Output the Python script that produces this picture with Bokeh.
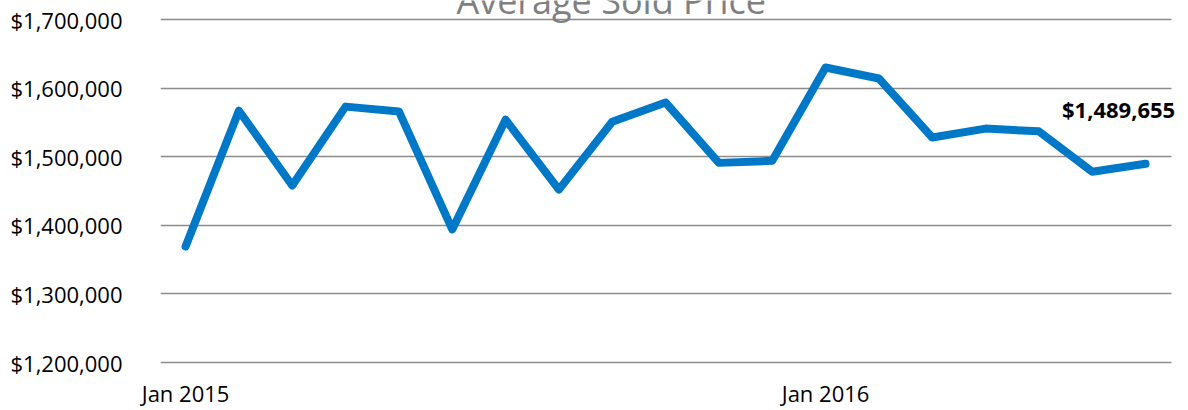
from bokeh.plotting import figure
from bokeh.models import Range1d, FixedTicker, NumeralTickFormatter, Label
from bokeh.embed import file_html
from bokeh.resources import INLINE

months = ["Jan 2015", "Feb 2015", "Mar 2015", "Apr 2015", "May 2015", "Jun 2015",
          "Jul 2015", "Aug 2015", "Sep 2015", "Oct 2015", "Nov 2015", "Dec 2015",
          "Jan 2016", "Feb 2016", "Mar 2016", "Apr 2016", "May 2016", "Jun 2016", "Jul 2016"]
avg_price = [1369000, 1567000, 1458000, 1573000, 1566000, 1394000, 1554000, 1452000,
             1551000, 1579000, 1491000, 1494000, 1630000, 1614000, 1528000, 1541000,
             1537000, 1478000, 1489655]
y_ticks = [1200000, 1300000, 1400000, 1500000, 1600000, 1700000]
x_tick_labels = {0: "Jan 2015", 12: "Jan 2016"}
title_text = "Average Sold Price"
last_label = "$1,489,655"

FONT = "Open Sans"
idx = list(range(len(months)))

p = figure(width=1188, height=410, output_backend="svg", toolbar_location=None,
           x_range=Range1d(-0.47, 18.805), y_range=Range1d(1197085, 1727697),
           min_border_left=160, min_border_right=0, min_border_top=0, min_border_bottom=46)
p.outline_line_color = None
p.background_fill_color = "white"
p.border_fill_color = "white"

p.line(idx, avg_price, line_color="#0078C8", line_width=8, line_cap="round", line_join="round")

p.yaxis.ticker = FixedTicker(ticks=y_ticks)
p.yaxis.formatter = NumeralTickFormatter(format="$0,0")
p.yaxis.axis_line_color = None
p.yaxis.major_tick_line_color = None
p.yaxis.minor_tick_line_color = None
p.yaxis.major_label_text_font = FONT
p.yaxis.major_label_text_font_size = "22px"
p.yaxis.major_label_text_color = "#000000"
p.yaxis.major_label_standoff = 32

p.xaxis.ticker = FixedTicker(ticks=list(x_tick_labels.keys()))
p.xaxis.major_label_overrides = x_tick_labels
p.xaxis.axis_line_color = None
p.xaxis.major_tick_line_color = None
p.xaxis.minor_tick_line_color = None
p.xaxis.major_label_text_font = FONT
p.xaxis.major_label_text_font_size = "22px"
p.xaxis.major_label_text_color = "#000000"
p.xaxis.major_label_standoff = 7

p.xgrid.grid_line_color = None
p.ygrid.ticker = FixedTicker(ticks=y_ticks)
p.ygrid.grid_line_color = "#8C8C8C"
p.ygrid.grid_line_width = 1.5
try:
    p.ygrid.cross_bounds = (-0.47, 18.48)
except Exception:
    pass

p.add_layout(Label(x=7.98, y=1708750, text=title_text, text_font=FONT, text_font_size="36px",
                   y_offset=13, text_color="#808080", text_align="center", text_baseline="alphabetic"))
p.add_layout(Label(x=idx[-1], y=avg_price[-1], text=last_label, x_offset=-27, y_offset=55,
                   text_font=FONT, text_font_size="22px", text_font_style="bold",
                   text_color="#000000", text_align="center", text_baseline="middle"))

open("out.html", "w").write(file_html(p, INLINE))
